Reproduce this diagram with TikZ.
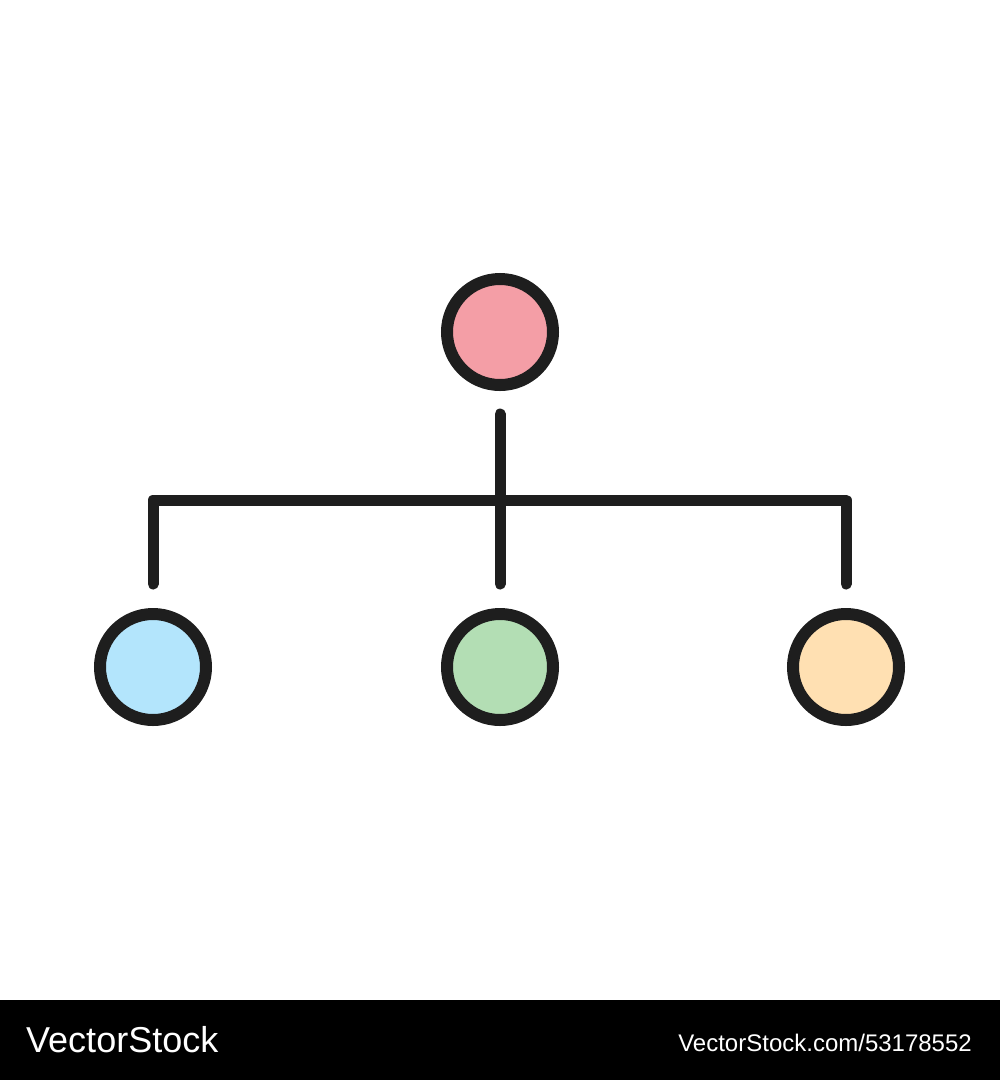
\documentclass[tikz,border=0pt]{standalone}
\usepackage{fontspec}
\setmainfont{Liberation Sans}
\usetikzlibrary{calc}
\definecolor{ink}{HTML}{1E1E1E}
\definecolor{cpink}{HTML}{F49EA6}
\definecolor{cblue}{HTML}{B3E5FC}
\definecolor{cgreen}{HTML}{B3DEB4}
\definecolor{corange}{HTML}{FFE0B2}
\tikzset{
  dot/.style={circle, draw=ink, line width=12pt, minimum size=106pt, inner sep=0pt},
  wire/.style={draw=ink, line width=11pt, line cap=round, line join=round},
  footertext/.style={text=white, inner sep=0pt}
}
\begin{document}
\begin{tikzpicture}[x=1pt, y=-1pt]
\useasboundingbox (0,0) rectangle (1000,1080);
\fill[white] (0,0) rectangle (1000,1000);
\fill[black] (0,1000) rectangle (1000,1080);
\node[dot, fill=cpink] (top) at (500,332) {};
\node[dot, fill=cblue] (left) at (153,667) {};
\node[dot, fill=cgreen] (mid) at (500,667) {};
\node[dot, fill=corange] (right) at (846,667) {};
\coordinate (topstub) at ($(top.center)+(0,82)$);
\coordinate (midstub) at ($(mid.center)+(0,-83)$);
\coordinate (leftstub) at ($(left.center)+(0,-83)$);
\coordinate (rightstub) at ($(right.center)+(0,-83)$);
\coordinate (lcorner) at ($(left.center)+(0,-167)$);
\coordinate (rcorner) at ($(right.center)+(0,-167)$);
\draw[wire] (topstub) -- (midstub);
\draw[wire] (leftstub) -- (lcorner) -- (rcorner) -- (rightstub);
\node[footertext, anchor=base west, font=\fontsize{36pt}{40pt}\selectfont] (brand) at (26,1052) {VectorStock};
\node[footertext, anchor=base east, font=\fontsize{24pt}{28pt}\selectfont] (url) at (972,1051) {VectorStock.com/53178552};
\end{tikzpicture}
\end{document}
